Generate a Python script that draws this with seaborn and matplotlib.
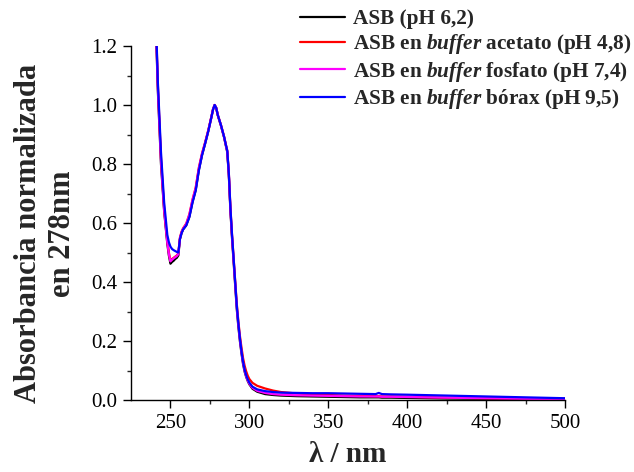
import matplotlib
matplotlib.use("Agg")
import matplotlib.pyplot as plt
import seaborn as sns
import pandas as pd
from matplotlib.lines import Line2D

# Wavelength grid (nm)
wavelength = [240, 242, 244, 246, 248, 249, 250, 251, 252, 253, 254, 255, 256, 257, 258,
              260, 262, 264, 266, 268, 270, 272, 274, 276, 277, 278, 279, 280, 282, 284,
              285, 286, 287, 288, 289, 290, 291, 292, 293, 294, 295, 296, 297, 298, 299,
              300, 302, 305, 310, 315, 320, 330, 340, 350, 360, 370, 380, 382, 384, 390,
              400, 425, 450, 475, 500]

# Normalised absorbance (A / A278)
asb_water = [1.40, 1.05, 0.80, 0.64, 0.53, 0.49, 0.462, 0.468, 0.472, 0.478, 0.482, 0.490, 0.545, 0.565, 0.578,
             0.592, 0.622, 0.672, 0.712, 0.780, 0.830, 0.870, 0.912, 0.960, 0.985, 1.000, 0.990, 0.965, 0.930, 0.890,
             0.865, 0.840, 0.760, 0.640, 0.550, 0.470, 0.390, 0.310, 0.250, 0.200, 0.158, 0.122, 0.096, 0.078, 0.064,
             0.053, 0.038, 0.028, 0.020, 0.017, 0.015, 0.013, 0.012, 0.011, 0.010, 0.009, 0.009, 0.009, 0.008, 0.008,
             0.007, 0.005, 0.004, 0.003, 0.002]

asb_acetate = [1.42, 1.07, 0.82, 0.65, 0.54, 0.50, 0.472, 0.478, 0.482, 0.486, 0.490, 0.497, 0.550, 0.570, 0.582,
               0.598, 0.630, 0.680, 0.720, 0.788, 0.836, 0.874, 0.915, 0.962, 0.986, 1.000, 0.990, 0.966, 0.932, 0.892,
               0.868, 0.845, 0.768, 0.650, 0.560, 0.482, 0.404, 0.328, 0.268, 0.218, 0.178, 0.142, 0.116, 0.097, 0.082,
               0.071, 0.058, 0.048, 0.039, 0.032, 0.027, 0.022, 0.019, 0.017, 0.015, 0.014, 0.013, 0.013, 0.012, 0.012,
               0.011, 0.008, 0.006, 0.005, 0.004]

asb_phosphate = [1.41, 1.06, 0.81, 0.645, 0.535, 0.495, 0.470, 0.476, 0.480, 0.484, 0.488, 0.495, 0.548, 0.568, 0.580,
                 0.596, 0.628, 0.678, 0.718, 0.785, 0.834, 0.872, 0.914, 0.961, 0.986, 1.000, 0.990, 0.966, 0.931, 0.891,
                 0.866, 0.842, 0.764, 0.645, 0.555, 0.476, 0.396, 0.316, 0.256, 0.205, 0.162, 0.126, 0.099, 0.080, 0.066,
                 0.055, 0.041, 0.031, 0.024, 0.020, 0.018, 0.016, 0.015, 0.014, 0.013, 0.012, 0.012, 0.012, 0.011, 0.011,
                 0.010, 0.008, 0.006, 0.004, 0.003]

asb_borax = [1.43, 1.08, 0.84, 0.67, 0.56, 0.535, 0.520, 0.512, 0.508, 0.505, 0.502, 0.500, 0.545, 0.565, 0.578,
             0.592, 0.620, 0.670, 0.710, 0.778, 0.830, 0.870, 0.912, 0.960, 0.985, 1.000, 0.990, 0.966, 0.932, 0.892,
             0.868, 0.845, 0.768, 0.652, 0.562, 0.482, 0.402, 0.322, 0.262, 0.210, 0.166, 0.130, 0.103, 0.084, 0.070,
             0.059, 0.045, 0.036, 0.030, 0.027, 0.025, 0.024, 0.023, 0.023, 0.022, 0.021, 0.020, 0.024, 0.020, 0.019,
             0.018, 0.015, 0.012, 0.009, 0.006]

series_labels = [
    "ASB (pH 6,2)",
    r"ASB en $buffer$ acetato (pH 4,8)",
    r"ASB en $buffer$ fosfato (pH 7,4)",
    r"ASB en $buffer$ bórax (pH 9,5)",
]
series_values = [asb_water, asb_acetate, asb_phosphate, asb_borax]
series_colors = ["#000000", "#ff0000", "#ff00ff", "#0000ff"]

frames = []
for label, vals in zip(series_labels, series_values):
    frames.append(pd.DataFrame({"wl": wavelength, "abs": vals, "serie": label}))
df = pd.concat(frames, ignore_index=True)

sns.set_style("ticks")
plt.rcParams["font.family"] = ["Liberation Serif", "DejaVu Serif"]
plt.rcParams["mathtext.fontset"] = "custom"
plt.rcParams["mathtext.it"] = "Liberation Serif:italic:bold"
plt.rcParams["mathtext.rm"] = "Liberation Serif:bold"

fig = plt.figure(figsize=(6.34, 4.72), dpi=100)
ax = fig.add_axes([131 / 634, 1 - 400 / 472, (565 - 131) / 634, (400 - 46) / 472])

sns.lineplot(data=df, x="wl", y="abs", hue="serie", palette=series_colors,
             hue_order=series_labels, linewidth=1.6, ax=ax, legend=False,
             estimator=None, sort=False)

ax.set_xlim(225, 500)
ax.set_ylim(0, 1.2)
ax.set_xticks([250, 300, 350, 400, 450, 500])
ax.set_xticks([275, 325, 375, 425, 475], minor=True)
ax.set_yticks([0.0, 0.2, 0.4, 0.6, 0.8, 1.0, 1.2])
ax.set_yticks([0.1, 0.3, 0.5, 0.7, 0.9, 1.1], minor=True)
ax.set_yticklabels([f"{v:.1f}" for v in [0.0, 0.2, 0.4, 0.6, 0.8, 1.0, 1.2]])
ax.tick_params(which="major", direction="out", length=6, width=1, labelsize=15,
               colors="black", pad=4)
ax.tick_params(which="minor", direction="out", length=3, width=1)
for side in ("top", "right"):
    ax.spines[side].set_visible(False)
for side in ("left", "bottom"):
    ax.spines[side].set_linewidth(1)
    ax.spines[side].set_color("black")

ax.set_xlabel("λ / nm", fontsize=21, fontweight="bold", labelpad=6)
ax.set_ylabel("Absorbancia normalizada\nen 278nm", fontsize=22, fontweight="bold",
              labelpad=10, linespacing=1.25)
ax.yaxis.label.set_y(0.47)

handles = [Line2D([], [], color=c, linewidth=1.6) for c in series_colors]
fig.legend(handles, series_labels, loc="upper left", bbox_to_anchor=(300 / 634, 1 - 9 / 472),
           frameon=False, prop={"weight": "bold", "size": 15.3}, handlelength=2.1,
           handletextpad=0.38, labelspacing=0.16, borderpad=0, borderaxespad=0)

fig.savefig("out.png", dpi=100)
